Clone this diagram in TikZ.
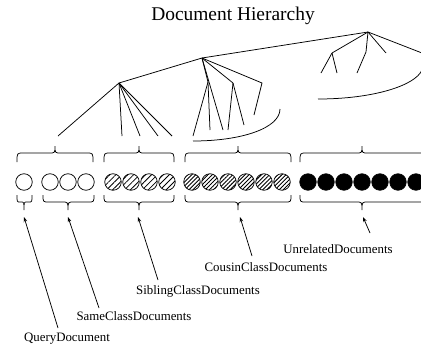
\documentclass[tikz,border=0pt]{standalone}
\usepackage{fontspec}
\setmainfont{Liberation Serif}
\usetikzlibrary{arrows.meta,patterns.meta}
\newcommand{\mybraceU}[4]{\draw[bracestyle] (#1,162) .. controls (#1,153) .. ({#1+#4},153) -- ({#3-#4},153) .. controls (#3,153) .. (#3,146) .. controls (#3,153) .. ({#3+#4},153) -- ({#2-#4},153) .. controls (#2,153) .. (#2,162);}
\newcommand{\mybraceL}[4]{\draw[bracestyle] (#1,195) .. controls (#1,202) .. ({#1+#4},202) -- ({#3-#4},202) .. controls (#3,202) .. (#3,210) .. controls (#3,202) .. ({#3+#4},202) -- ({#2-#4},202) .. controls (#2,202) .. (#2,195);}
\begin{document}
\begin{tikzpicture}[x=1bp,y=-1bp,
  treeline/.style={line width=0.75bp},
  bracestyle/.style={line width=0.75bp},
  doc/.style={circle,draw,line width=0.75bp,minimum size=16.5bp,inner sep=0pt},
  querydoc/.style={doc,fill=white},
  sibdoc/.style={doc,pattern={Lines[angle=45,distance=4.2bp,line width=0.8bp]}},
  cousdoc/.style={doc,pattern={Lines[angle=45,distance=2.9bp,line width=0.9bp]}},
  unreldoc/.style={doc,fill=black},
  lbl/.style={font=\fontsize{12.9}{15}\selectfont,inner sep=0pt},
  pointer/.style={line width=0.75bp,-{Stealth[length=5bp,width=3.6bp]}}]
\useasboundingbox (0,0) rectangle (421,350);
\clip (0,0) rectangle (421,350);
% title
\node[font=\fontsize{19.5}{22}\selectfont,inner sep=0pt] (title) at (233,16) {Document Hierarchy};
% tree coordinates
\coordinate (r0) at (368,32);
\coordinate (r1) at (202,58);
\coordinate (r2) at (119,83);
\coordinate (a1) at (332,53);
\coordinate (a1l) at (321,73);
\coordinate (a1r) at (337,73);
\coordinate (a2) at (366,52);
\coordinate (a2l) at (357,73);
\coordinate (a3) at (386,53);
\coordinate (a4) at (422,53);
\coordinate (b1) at (208,82);
\coordinate (b1a) at (193,136);
\coordinate (b1b) at (210,130);
\coordinate (b1c) at (223,130);
\coordinate (b2) at (233,83);
\coordinate (b2a) at (228,130);
\coordinate (b2b) at (244,125);
\coordinate (b3) at (262,83);
\coordinate (b3a) at (254,115);
\coordinate (c1) at (58,136);
\coordinate (c2) at (122,136);
\coordinate (c3) at (140,136);
\coordinate (c4) at (158,136);
\coordinate (c5) at (172,136);
\coordinate (arc1s) at (193,141);
\coordinate (arc1e) at (280,109);
\coordinate (arc2s) at (318,99);
\coordinate (arc2e) at (422,70);
% tree edges
\draw[treeline] (r0) -- (r1);
\draw[treeline] (r0) -- (a1); \draw[treeline] (a1) -- (a1l); \draw[treeline] (a1) -- (a1r);
\draw[treeline] (r0) -- (a2) -- (a2l);
\draw[treeline] (r0) -- (a3);
\draw[treeline] (r0) -- (a4);
\draw[treeline] (r1) -- (r2);
\draw[treeline] (r1) -- (b1); \draw[treeline] (b1) -- (b1a); \draw[treeline] (b1) -- (b1b); \draw[treeline] (r1) -- (b1c);
\draw[treeline] (r1) -- (b2); \draw[treeline] (b2) -- (b2a); \draw[treeline] (b2) -- (b2b);
\draw[treeline] (r1) -- (b3) -- (b3a);
\draw[treeline] (r2) -- (c1); \draw[treeline] (r2) -- (c2); \draw[treeline] (r2) -- (c3);
\draw[treeline] (r2) -- (c4); \draw[treeline] (r2) -- (c5);
\draw[treeline] (arc1s) .. controls (242,141) and (280,128) .. (arc1e);
\draw[treeline] (arc2s) .. controls (372,99) and (415,86) .. (arc2e);
% documents
\node[querydoc] (q) at (24,182) {};
\foreach \x [count=\i] in {50,68,86} \node[querydoc] (s\i) at (\x,182) {};
\foreach \x [count=\i] in {113,131,149,167} \node[sibdoc] (sb\i) at (\x,182) {};
\foreach \x [count=\i] in {192,210,228,246,264,282} \node[cousdoc] (cs\i) at (\x,182) {};
\foreach \x [count=\i] in {308,326,344,362,380,398,416} \node[unreldoc] (u\i) at (\x,182) {};
% upper braces
\mybraceU{17}{93}{55}{6}
\mybraceU{104}{174}{139}{6}
\mybraceU{185}{291}{238}{6}
\mybraceU{300}{426}{362}{6}
% lower braces
\mybraceL{17}{32}{24}{3}
\mybraceL{43}{94}{68}{6}
\mybraceL{104}{174}{139}{6}
\mybraceL{185}{291}{238}{6}
\mybraceL{300}{426}{362}{6}
% labels
\node[lbl] (lq) at (67,339) {QueryDocument};
\node[lbl] (ls) at (134,316) {SameClassDocuments};
\node[lbl] (lsb) at (198,291) {SiblingClassDocuments};
\node[lbl] (lc) at (266,267) {CousinClassDocuments};
\node[lbl] (lu) at (338,249) {UnrelatedDocuments};
% arrow ends
\coordinate (tq) at (24,217);
\coordinate (ts) at (68,217);
\coordinate (tsb) at (138,217);
\coordinate (tc) at (240,217);
\coordinate (tu) at (363,217);
\coordinate (fq) at (58,328);
\coordinate (fs) at (99,308);
\coordinate (fsb) at (158,280);
\coordinate (fc) at (252,256);
\coordinate (fu) at (370,233);
\draw[pointer] (fq) -- (tq);
\draw[pointer] (fs) -- (ts);
\draw[pointer] (fsb) -- (tsb);
\draw[pointer] (fc) -- (tc);
\draw[pointer] (fu) -- (tu);
\end{tikzpicture}
\end{document}
